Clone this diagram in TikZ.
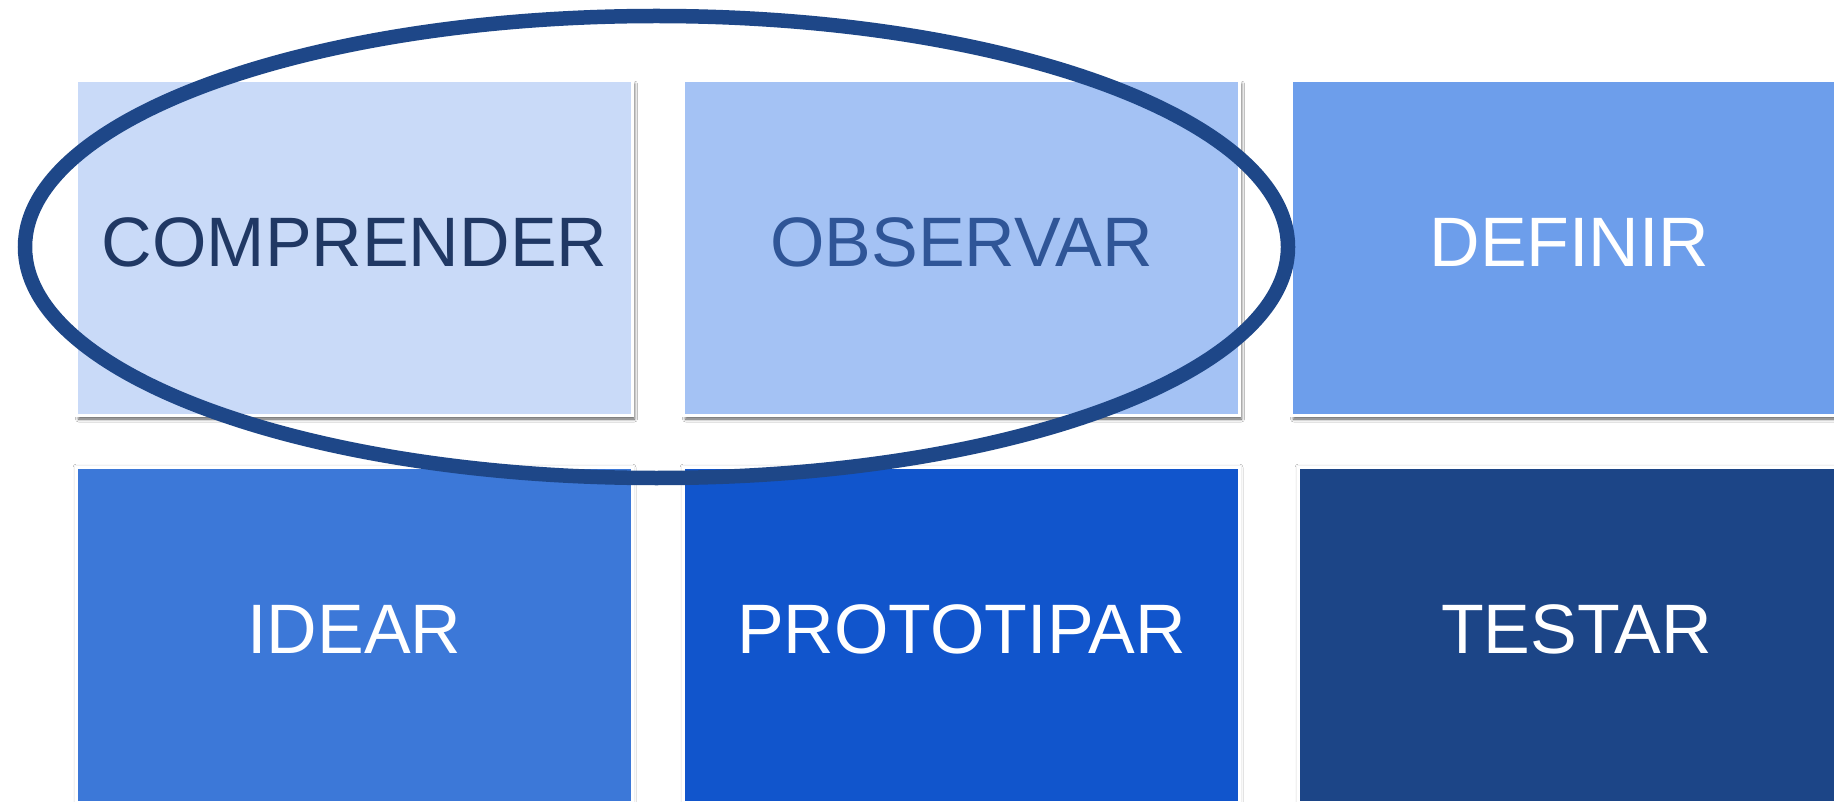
\documentclass[tikz,border=0pt]{standalone}
\usepackage{fontspec}
\setmainfont{Liberation Sans}
\usetikzlibrary{shadows.blur}
\definecolor{cA}{HTML}{C9DAF8}
\definecolor{cB}{HTML}{A4C2F4}
\definecolor{cC}{HTML}{6D9EEB}
\definecolor{cD}{HTML}{3C78D8}
\definecolor{cE}{HTML}{1155CC}
\definecolor{cF}{HTML}{1C4587}
\definecolor{tA}{HTML}{203864}
\definecolor{tB}{HTML}{2F5597}
\definecolor{ring}{HTML}{1E4788}
\tikzset{
  card/.style={rectangle, draw=white, line width=3pt, minimum width=556pt, minimum height=335pt,
    inner sep=0pt, text depth=12pt, font=\fontsize{70}{84}\selectfont},
  upcard/.style={card, blur shadow={shadow xshift=2pt, shadow yshift=-3.5pt, shadow blur radius=3pt, shadow opacity=65}},
  lowcard/.style={card, blur shadow={shadow xshift=0pt, shadow yshift=0pt, shadow blur radius=3.5pt, shadow opacity=30}},
  ringstyle/.style={draw=ring, line width=14.5pt}
}
\begin{document}
\begin{tikzpicture}[x=1pt,y=-1pt]
\useasboundingbox[fill=white] (0,0) rectangle (1834,802);
\node[upcard, fill=cA, text=tA] (comp) at (354.5,248) {COMPRENDER};
\node[upcard, fill=cB, text=tB] (obs) at (961.5,248) {OBSERVAR};
\node[upcard, fill=cC, text=white] (def) at (1569.5,248) {DEFINIR};
\node[lowcard, fill=cD, text=white] (idear) at (354.5,635) {IDEAR};
\node[lowcard, fill=cE, text=white] (proto) at (961.5,635) {PROTOTIPAR};
\node[lowcard, fill=cF, text=white] (test) at (1576.5,635) {TESTAR};
\draw[ringstyle] (656.5,247) ellipse [x radius=631.5, y radius=231];
\end{tikzpicture}
\end{document}
